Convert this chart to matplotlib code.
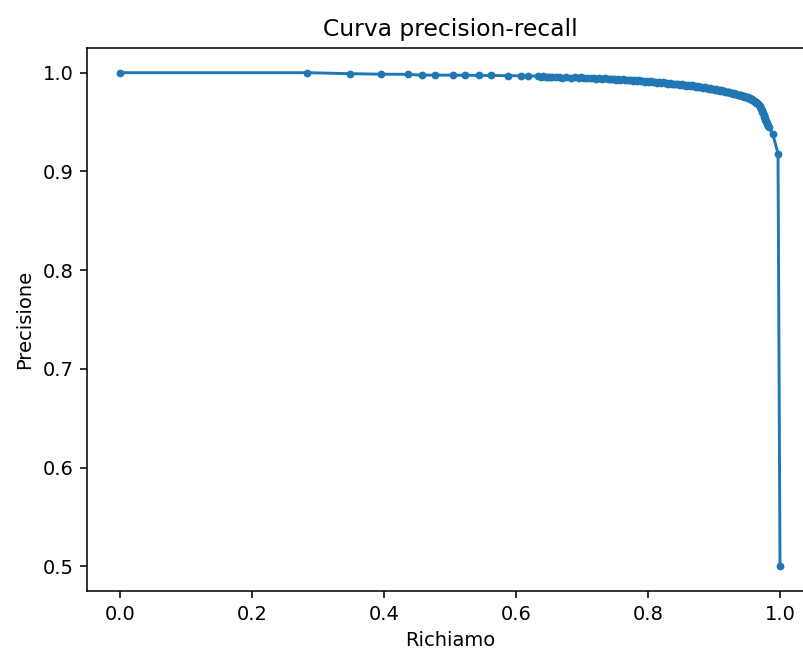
import matplotlib
matplotlib.use("Agg")
import matplotlib.pyplot as plt

# Recall / precision pairs
RECALL = [
    0.0, 0.283, 0.348, 0.395, 0.436, 0.457, 0.477, 0.505, 0.522, 0.544,
    0.562, 0.588, 0.608, 0.618, 0.633, 0.638, 0.641, 0.645, 0.648, 0.652,
    0.655, 0.660, 0.665, 0.670, 0.676, 0.683, 0.689, 0.695, 0.699, 0.703,
    0.708, 0.714, 0.718, 0.721, 0.726, 0.730, 0.735, 0.739, 0.742, 0.745,
    0.749, 0.752, 0.755, 0.758, 0.762, 0.765, 0.769, 0.772, 0.775, 0.778,
    0.781, 0.784, 0.787, 0.790, 0.793, 0.795, 0.798, 0.801, 0.804, 0.807,
    0.810, 0.813, 0.816, 0.819, 0.822, 0.825, 0.828, 0.831, 0.834, 0.836,
    0.839, 0.842, 0.845, 0.848, 0.851, 0.853, 0.856, 0.858, 0.861, 0.863,
    0.866, 0.868, 0.871, 0.873, 0.876, 0.878, 0.881, 0.883, 0.886, 0.888,
    0.890, 0.892, 0.894, 0.896, 0.899, 0.901, 0.903, 0.905, 0.907, 0.909,
    0.911, 0.913, 0.915, 0.917, 0.919, 0.921, 0.923, 0.925, 0.927, 0.929,
    0.931, 0.932, 0.934, 0.936, 0.938, 0.939, 0.941, 0.943, 0.945, 0.946,
    0.948, 0.949, 0.951, 0.952, 0.954, 0.955, 0.957, 0.958, 0.960, 0.961,
    0.963, 0.964, 0.965, 0.966, 0.968, 0.969, 0.970, 0.971, 0.972, 0.973,
    0.974, 0.975, 0.976, 0.977, 0.978, 0.979, 0.980, 0.981, 0.982, 0.983,
    0.989, 0.997, 1.0,
]
PRECISION = [
    1.0, 1.0, 0.9990, 0.9985, 0.9983, 0.9975, 0.9976, 0.9975, 0.9974, 0.9972,
    0.9972, 0.9970, 0.9969, 0.9968, 0.9966, 0.9958, 0.9962, 0.9955, 0.9960, 0.9954,
    0.9958, 0.9952, 0.9957, 0.9950, 0.9955, 0.9948, 0.9954, 0.9947, 0.9952, 0.9945,
    0.9950, 0.9943, 0.9948, 0.9941, 0.9946, 0.9938, 0.9943, 0.9935, 0.9940, 0.9933,
    0.9938, 0.9930, 0.9935, 0.9928, 0.9933, 0.9925, 0.9930, 0.9922, 0.9927, 0.9919,
    0.9924, 0.9917, 0.9921, 0.9913, 0.9918, 0.9910, 0.9915, 0.9907, 0.9912, 0.9903,
    0.9908, 0.9900, 0.9905, 0.9897, 0.9901, 0.9893, 0.9898, 0.9889, 0.9894, 0.9886,
    0.9890, 0.9882, 0.9886, 0.9878, 0.9883, 0.9874, 0.9879, 0.9870, 0.9875, 0.9866,
    0.9871, 0.9862, 0.9866, 0.9857, 0.9862, 0.9853, 0.9857, 0.9848, 0.9852, 0.9843,
    0.9847, 0.9838, 0.9842, 0.9833, 0.9837, 0.9828, 0.9832, 0.9823, 0.9826, 0.9818,
    0.9821, 0.9812, 0.9815, 0.9806, 0.9809, 0.9800, 0.9803, 0.9795, 0.9797, 0.9789,
    0.9791, 0.9783, 0.9785, 0.9777, 0.9779, 0.9771, 0.9772, 0.9764, 0.9765, 0.9757,
    0.9758, 0.9750, 0.9750, 0.9742, 0.9741, 0.9733, 0.9731, 0.9722, 0.9718, 0.9710,
    0.9703, 0.9695, 0.9688, 0.9678, 0.9670, 0.9660, 0.9648, 0.9635, 0.9620, 0.9605,
    0.9590, 0.9572, 0.9555, 0.9540, 0.9522, 0.9508, 0.9492, 0.9478, 0.9465, 0.9452,
    0.9380, 0.9180, 0.5,
]

DPI = 140
fig = plt.figure(figsize=(803 / DPI, 651 / DPI), dpi=DPI)
# axes run past the right edge, as in the cropped reference
ax = fig.add_axes([87 / 803, 60 / 651, 726 / 803, 543 / 651])

ax.plot(RECALL, PRECISION, marker=".")
ax.set_xlabel("Richiamo")
ax.set_ylabel("Precisione")
ax.set_title("Curva precision-recall")

fig.savefig("out.png", dpi=DPI)
